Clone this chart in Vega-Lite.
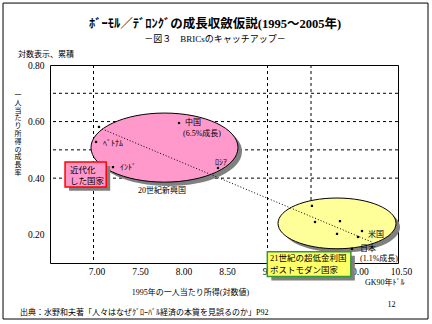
{
  "$schema": "https://vega.github.io/schema/vega-lite/v6.json",
  "width": 348,
  "height": 198,
  "autosize": {"type": "none"},
  "padding": {"left": 50, "top": 65, "right": 34, "bottom": 61},
  "background": "white",
  "config": {
    "view": {"stroke": "black", "strokeWidth": 1},
    "text": {"font": "Liberation Serif, Noto Sans CJK JP", "color": "black"}
  },
  "title": {
    "text": "ﾎﾞｰﾓﾙ／ﾃﾞﾛﾝｸﾞの成長収斂仮説(1995～2005年)",
    "subtitle": "－図３　BRICsのキャッチアップ－",
    "anchor": "middle",
    "frame": "group",
    "dx": -9,
    "offset": -41,
    "font": "Liberation Serif, Noto Sans CJK JP",
    "fontSize": 12.5,
    "fontWeight": "bold",
    "color": "black",
    "subtitleFont": "Liberation Serif, Noto Sans CJK JP",
    "subtitleFontSize": 9,
    "subtitleColor": "black",
    "subtitlePadding": 4
  },
  "datasets": {
    "vgrid": [{"x": 7.0}, {"x": 9.0}, {"x": 9.5}],
    "hgrid": [{"y": 0.4}, {"y": 0.5}, {"y": 0.6}, {"y": 0.7}],
    "pinkShadow": [{"x": 7.862, "y": 0.494}],
    "pink": [{"x": 7.816, "y": 0.508}],
    "yellowShadow": [{"x": 9.845, "y": 0.226}],
    "yellow": [{"x": 9.799, "y": 0.240}],
    "trend": [{"x": 7.098, "y": 0.574}, {"x": 10.201, "y": 0.174}],
    "points": [
      {"x": 7.063, "y": 0.581},
      {"x": 7.029, "y": 0.528},
      {"x": 7.224, "y": 0.439},
      {"x": 7.983, "y": 0.595},
      {"x": 8.431, "y": 0.436},
      {"x": 9.511, "y": 0.302},
      {"x": 9.546, "y": 0.245},
      {"x": 9.833, "y": 0.248},
      {"x": 9.799, "y": 0.203},
      {"x": 10.086, "y": 0.213},
      {"x": 10.040, "y": 0.192},
      {"x": 9.971, "y": 0.150}
    ],
    "labels": [
      {"x": 7.109, "y": 0.521, "label": "ﾍﾞﾄﾅﾑ"},
      {"x": 7.305, "y": 0.436, "label": "ｲﾝﾄﾞ"},
      {"x": 8.052, "y": 0.595, "label": "中国"},
      {"x": 8.029, "y": 0.556, "label": "(6.5%成長)"},
      {"x": 8.397, "y": 0.454, "label": "ﾛｼｱ"},
      {"x": 7.511, "y": 0.355, "label": "20世紀新興国"},
      {"x": 10.155, "y": 0.199, "label": "米国"},
      {"x": 10.063, "y": 0.150, "label": "日本"},
      {"x": 10.063, "y": 0.114, "label": "(1.1%成長)"}
    ],
    "redShadow": [{"x": 6.719, "x2": 7.192, "y": 0.443, "y2": 0.355}],
    "redBox": [{"x": 6.673, "x2": 7.146, "y": 0.457, "y2": 0.369}],
    "yellowBoxShadow": [{"x": 9.044, "x2": 10.004, "y": 0.126, "y2": 0.038}],
    "yellowBox": [{"x": 8.998, "x2": 9.958, "y": 0.140, "y2": 0.052}],
    "boxText": [
      {"x": 6.730, "y": 0.429, "label": "近代化"},
      {"x": 6.730, "y": 0.390, "label": "した国家"},
      {"x": 9.029, "y": 0.118, "label": "21世紀の超低金利国"},
      {"x": 9.029, "y": 0.075, "label": "ポストモダン国家"}
    ],
    "outside": [
      {"x": 6.132, "y": 0.835, "label": "対数表示、累積"},
      {"x": 10.121, "y": 0.029, "label": "GK90年ﾄﾞﾙ"},
      {"x": 10.380, "y": -0.048, "label": "12"},
      {"x": 6.155, "y": -0.077, "label": "出典：水野和夫著「人々はなぜｸﾞﾛｰﾊﾞﾙ経済の本質を見誤るのか」P92"}
    ],
    "ytitle": [{"x": 6.132, "y": 0.708, "label": "一\n人\n当\nた\nり\n所\n得\nの\n成\n長\n率"}],
    "frame": [{"x": 5.960, "x2": 10.845, "y": 1.019, "y2": -0.098}]
  },
  "layer": [
    {
      "data": {"name": "vgrid"},
      "mark": {"type": "rule", "color": "black", "strokeWidth": 1, "strokeDash": [3, 3]},
      "encoding": {
        "x": {
          "field": "x",
          "type": "quantitative",
          "scale": {"domain": [6.5, 10.5], "nice": false, "zero": false},
          "axis": {
            "values": [7, 7.5, 8, 8.5, 9, 9.5, 10, 10.5],
            "format": ".2f",
            "ticks": false,
            "domain": false,
            "grid": false,
            "zindex": 0,
            "labelPadding": 3,
            "labelOffset": 3,
            "labelFlush": false,
            "labelFont": "Liberation Serif",
            "labelFontSize": 9.5,
            "labelColor": "black",
            "title": "1995年の一人当たり所得(対数値)",
            "titleFont": "Liberation Serif, Noto Sans CJK JP",
            "titleFontSize": 8,
            "titleFontWeight": "normal",
            "titleColor": "black",
            "titleX": 140,
            "titleY": 29,
            "titleAlign": "center",
            "titleBaseline": "middle"
          }
        }
      }
    },
    {
      "data": {"name": "hgrid"},
      "mark": {"type": "rule", "color": "black", "strokeWidth": 1, "strokeDash": [3, 3]},
      "encoding": {
        "y": {
          "field": "y",
          "type": "quantitative",
          "scale": {"domain": [0.1, 0.8], "nice": false, "zero": false},
          "axis": {
            "values": [0.2, 0.3, 0.4, 0.5, 0.6, 0.7, 0.8],
            "format": ".2f",
            "ticks": false,
            "domain": false,
            "grid": false,
            "zindex": 0,
            "labelPadding": 6,
            "labelFlush": false,
            "labelFont": "Liberation Serif",
            "labelFontSize": 9.5,
            "labelColor": "black",
            "title": null
          }
        }
      }
    },
    {
      "data": {"name": "pinkShadow"},
      "mark": {"type": "point", "filled": true, "shape": "M -1 0 A 1 0.47 0 1 0 1 0 A 1 0.47 0 1 0 -1 0 Z", "size": 21609, "fill": "#808080", "opacity": 1, "strokeWidth": 0},
      "encoding": {"x": {"field": "x", "type": "quantitative"}, "y": {"field": "y", "type": "quantitative"}}
    },
    {
      "data": {"name": "pink"},
      "mark": {"type": "point", "filled": true, "shape": "M -1 0 A 1 0.47 0 1 0 1 0 A 1 0.47 0 1 0 -1 0 Z", "size": 21609, "fill": "#ff99cc", "stroke": "black", "strokeWidth": 1, "opacity": 1},
      "encoding": {"x": {"field": "x", "type": "quantitative"}, "y": {"field": "y", "type": "quantitative"}}
    },
    {
      "data": {"name": "yellowShadow"},
      "mark": {"type": "point", "filled": true, "shape": "M -1 0 A 1 0.43 0 1 0 1 0 A 1 0.43 0 1 0 -1 0 Z", "size": 13924, "fill": "#808080", "opacity": 1, "strokeWidth": 0},
      "encoding": {"x": {"field": "x", "type": "quantitative"}, "y": {"field": "y", "type": "quantitative"}}
    },
    {
      "data": {"name": "yellow"},
      "mark": {"type": "point", "filled": true, "shape": "M -1 0 A 1 0.43 0 1 0 1 0 A 1 0.43 0 1 0 -1 0 Z", "size": 13924, "fill": "#ffff99", "stroke": "black", "strokeWidth": 1, "opacity": 1},
      "encoding": {"x": {"field": "x", "type": "quantitative"}, "y": {"field": "y", "type": "quantitative"}}
    },
    {
      "data": {"name": "trend"},
      "mark": {"type": "line", "color": "black", "strokeWidth": 1, "strokeDash": [1, 2]},
      "encoding": {"x": {"field": "x", "type": "quantitative"}, "y": {"field": "y", "type": "quantitative"}}
    },
    {
      "data": {"name": "points"},
      "mark": {"type": "point", "shape": "square", "filled": true, "size": 5, "color": "black", "opacity": 1},
      "encoding": {"x": {"field": "x", "type": "quantitative"}, "y": {"field": "y", "type": "quantitative"}}
    },
    {
      "data": {"name": "labels"},
      "mark": {"type": "text", "align": "left", "baseline": "middle", "fontSize": 8},
      "encoding": {"x": {"field": "x", "type": "quantitative"}, "y": {"field": "y", "type": "quantitative"}, "text": {"field": "label"}}
    },
    {
      "data": {"name": "redShadow"},
      "mark": {"type": "rect", "fill": "#808080"},
      "encoding": {"x": {"field": "x", "type": "quantitative"}, "x2": {"field": "x2"}, "y": {"field": "y", "type": "quantitative"}, "y2": {"field": "y2"}}
    },
    {
      "data": {"name": "redBox"},
      "mark": {"type": "rect", "fill": "#ff99cc", "stroke": "#ff0000", "strokeWidth": 1.5},
      "encoding": {"x": {"field": "x", "type": "quantitative"}, "x2": {"field": "x2"}, "y": {"field": "y", "type": "quantitative"}, "y2": {"field": "y2"}}
    },
    {
      "data": {"name": "yellowBoxShadow"},
      "mark": {"type": "rect", "fill": "#808080"},
      "encoding": {"x": {"field": "x", "type": "quantitative"}, "x2": {"field": "x2"}, "y": {"field": "y", "type": "quantitative"}, "y2": {"field": "y2"}}
    },
    {
      "data": {"name": "yellowBox"},
      "mark": {"type": "rect", "fill": "#ffff66", "stroke": "#339933", "strokeWidth": 1.5},
      "encoding": {"x": {"field": "x", "type": "quantitative"}, "x2": {"field": "x2"}, "y": {"field": "y", "type": "quantitative"}, "y2": {"field": "y2"}}
    },
    {
      "data": {"name": "boxText"},
      "mark": {"type": "text", "align": "left", "baseline": "middle", "fontSize": 8.5},
      "encoding": {"x": {"field": "x", "type": "quantitative"}, "y": {"field": "y", "type": "quantitative"}, "text": {"field": "label"}}
    },
    {
      "data": {"name": "outside"},
      "mark": {"type": "text", "align": "left", "baseline": "middle", "fontSize": 8},
      "encoding": {"x": {"field": "x", "type": "quantitative"}, "y": {"field": "y", "type": "quantitative"}, "text": {"field": "label"}}
    },
    {
      "data": {"name": "ytitle"},
      "mark": {"type": "text", "align": "center", "baseline": "top", "fontSize": 7, "lineHeight": 7.8, "lineBreak": "\n", "font": "Noto Sans CJK JP"},
      "encoding": {"x": {"field": "x", "type": "quantitative"}, "y": {"field": "y", "type": "quantitative"}, "text": {"field": "label"}}
    },
    {
      "data": {"name": "frame"},
      "mark": {"type": "rect", "fill": null, "fillOpacity": 0, "stroke": "black", "strokeWidth": 1},
      "encoding": {"x": {"field": "x", "type": "quantitative"}, "x2": {"field": "x2"}, "y": {"field": "y", "type": "quantitative"}, "y2": {"field": "y2"}}
    }
  ]
}
